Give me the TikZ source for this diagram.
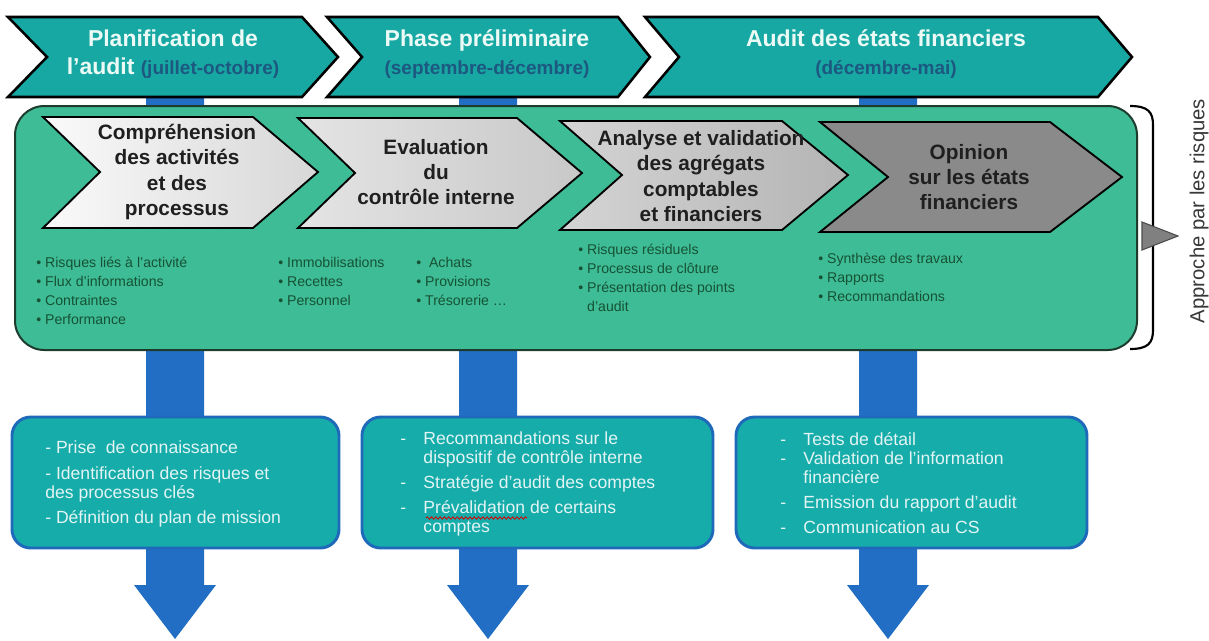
\documentclass[tikz,border=0pt]{standalone}
\usepackage{fontspec}
\setmainfont{Liberation Sans}
\usetikzlibrary{decorations.pathmorphing}
\definecolor{topteal}{RGB}{24,168,164}
\definecolor{subblue}{RGB}{28,88,128}
\definecolor{toptext}{RGB}{236,250,246}
\definecolor{panelgreen}{RGB}{62,188,150}
\definecolor{paneledge}{RGB}{30,60,45}
\definecolor{boxteal}{RGB}{22,172,170}
\definecolor{boxborder}{RGB}{30,105,185}
\definecolor{arrowblue}{RGB}{34,110,196}
\definecolor{listgreen}{RGB}{22,82,52}
\definecolor{lowtext}{RGB}{226,244,244}
\definecolor{chevA1}{RGB}{250,250,250}
\definecolor{chevA2}{RGB}{215,215,215}
\definecolor{chevB1}{RGB}{228,228,228}
\definecolor{chevB2}{RGB}{200,200,200}
\definecolor{chevC1}{RGB}{212,212,212}
\definecolor{chevC2}{RGB}{180,180,180}
\definecolor{chevD}{RGB}{138,138,138}
\definecolor{tri}{RGB}{128,128,128}
\newcommand\bluedownarrow[1]{%
  \fill[arrowblue] ({#1-29},97) -- ({#1+29},97) -- ({#1+29},585) -- ({#1+41},585)
    -- (#1,639) -- ({#1-41},585) -- ({#1-29},585) -- cycle;}
\begin{document}
\begin{tikzpicture}[x=0.75pt,y=-0.75pt,
  topchev/.style={fill=topteal,draw=black,line width=1.9pt,line join=miter},
  innerchev/.style={draw=black,line width=1.4pt,line join=miter},
  panelbox/.style={fill=panelgreen,draw=paneledge,line width=1.5pt,rounded corners=22pt},
  lowbox/.style={fill=boxteal,draw=boxborder,line width=2.2pt,rounded corners=14pt},
  toptxt/.style={align=center,inner sep=0pt,text=toptext,font=\bfseries\fontsize{17.25}{21}\selectfont},
  chevtxt/.style={align=center,inner sep=0pt,text=black!88,font=\bfseries\fontsize{15.6}{19}\selectfont},
  listtxt/.style={align=left,inner sep=0pt,anchor=north west,text=listgreen,font=\fontsize{10.6}{14.25}\selectfont},
  lowtxt/.style={inner sep=0pt,anchor=north west,text=lowtext,font=\fontsize{13.2}{14.25}\selectfont}
]
\useasboundingbox (0,0) rectangle (1209,640);
\fill[white] (0,0) rectangle (1209,640);
% blue arrows (behind everything)
\bluedownarrow{175}
\bluedownarrow{488}
\bluedownarrow{888}
% top chevrons
\draw[topchev] (8,17) -- (302,17) -- (338,57) -- (302,97) -- (8,97) -- (47,57) -- cycle;
\draw[topchev] (327,17) -- (618,17) -- (650,57) -- (618,97) -- (327,97) -- (362,57) -- cycle;
\draw[topchev] (645,17) -- (1098,17) -- (1132,57) -- (1098,97) -- (645,97) -- (679,57) -- cycle;
\node[toptxt] (t1) at (173,54) {Planification de\\l’audit {\color{subblue}\fontsize{14.25}{21}\selectfont(juillet-octobre)}};
\node[toptxt] (t2) at (487,54) {Phase préliminaire\\{\color{subblue}\fontsize{14.25}{21}\selectfont(septembre-décembre)}};
\node[toptxt] (t3) at (886,54) {Audit des états financiers\\{\color{subblue}\fontsize{14.25}{21}\selectfont(décembre-mai)}};
% green panel
\draw[panelbox] (15,106) rectangle (1137,350);
% inner chevrons
\draw[innerchev,left color=chevA1,right color=chevA2] (43,117) -- (253,117) -- (318,172) -- (253,228) -- (43,228) -- (100,172) -- cycle;
\draw[innerchev,left color=chevB1,right color=chevB2] (298,118) -- (517,118) -- (582,173) -- (517,228) -- (298,228) -- (355,173) -- cycle;
\draw[innerchev,left color=chevC1,right color=chevC2] (560,121) -- (782,121) -- (848,175) -- (782,230) -- (560,230) -- (622,175) -- cycle;
\draw[innerchev,fill=chevD] (820,122) -- (1050,122) -- (1122,177) -- (1050,232) -- (820,232) -- (888,177) -- cycle;
\node[chevtxt] (cA) at (177,172) {Compréhension\\des activités\\et des\\processus};
\node[chevtxt] (cB) at (436,172) {Evaluation\\du\\contrôle interne};
\node[chevtxt] (cC) at (701,176) {Analyse et validation\\des agrégats\\comptables\\et financiers};
\node[chevtxt] (cD) at (969,177) {Opinion\\sur les états\\financiers};
% bullet lists
\node[listtxt] (l1) at (36,254) {\strut• Risques liés à l’activité\\• Flux d’informations\\• Contraintes\\• Performance};
\node[listtxt] (l2a) at (278,254) {\strut• Immobilisations\\• Recettes\\• Personnel};
\node[listtxt] (l2b) at (416,254) {\strut•\ \ Achats\\• Provisions\\• Trésorerie …};
\node[listtxt] (l3) at (578,241) {\strut• Risques résiduels\\• Processus de clôture\\• Présentation des points\\\hphantom{• }d’audit};
\node[listtxt] (l4) at (818,250) {\strut• Synthèse des travaux\\• Rapports\\• Recommandations};
% lower boxes
\draw[lowbox] (12,417) rectangle (339,548);
\draw[lowbox] (362,417) rectangle (713,548);
\draw[lowbox] (736,417) rectangle (1087,548);
\node[lowtxt] (b1) at (45,440) {\begin{tabular}{@{}l@{}}- Prise\ \ de connaissance\\[5pt]- Identification des risques et\\des processus clés\\[4.5pt]- Définition du plan de mission\end{tabular}};
\node[lowtxt] (b2) at (400,431) {\begin{tabular}{@{}l@{\hspace{13pt}}l@{}}-&Recommandations sur le\\&dispositif de contrôle interne\\[4.5pt]-&Stratégie d’audit des comptes\\[4.5pt]-&Prévalidation de certains\\&comptes\end{tabular}};
\node[lowtxt] (b3) at (780,432) {\begin{tabular}{@{}l@{\hspace{13pt}}l@{}}-&Tests de détail\\-&Validation de l’information\\&financière\\[4.5pt]-&Emission du rapport d’audit\\[4.5pt]-&Communication au CS\end{tabular}};
\draw[red!85!black,line width=0.6pt,decorate,decoration={snake,amplitude=0.9,segment length=3.2}] (426,518) -- (527,518);
% bracket, triangle, rotated label
\draw[black,line width=1.6pt] (1130,106) .. controls (1148,106) and (1153,112) .. (1153,125) -- (1153,330) .. controls (1153,343) and (1148,349) .. (1130,349);
\draw[fill=tri,draw=black!70,line width=0.8pt] (1142,222) -- (1178,236) -- (1142,250) -- cycle;
\node[rotate=90,inner sep=0pt,text=black!78,font=\fontsize{15.2}{18}\selectfont] (ap) at (1199,211) {Approche par les risques};
\end{tikzpicture}
\end{document}
